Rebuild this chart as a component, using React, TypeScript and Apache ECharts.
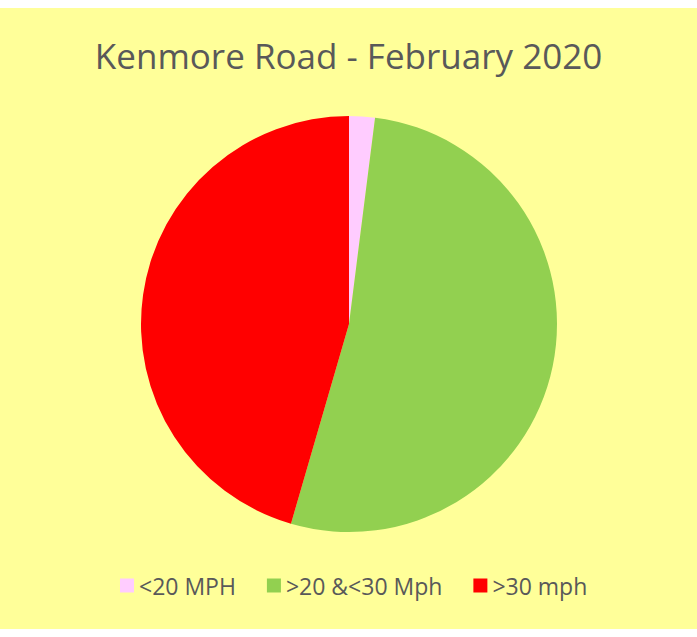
import React, { useEffect, useRef } from "react";
import * as echarts from "echarts";

const categories = ["<20 MPH", ">20 &<30 Mph", ">30 mph"];
const values = [2.0, 52.5, 45.5];
const colors = ["#FFCCFF", "#92D050", "#FF0000"];
const titleText = "Kenmore Road - February 2020";

export default function App() {
  const ref = useRef<HTMLDivElement>(null);
  useEffect(() => {
    if (!ref.current) return;
    const chart = echarts.init(ref.current, null, { renderer: "svg" });
    chart.setOption({
      animation: false,
      backgroundColor: "#FFFF99",
      title: {
        text: titleText,
        left: "center",
        top: 25,
        textStyle: {
          fontFamily: "Open Sans",
          fontSize: 35,
          fontWeight: "normal",
          color: "#595959",
        },
      },
      legend: {
        bottom: 27,
        left: 115,
        icon: "rect",
        itemWidth: 14,
        itemHeight: 14,
        itemGap: 31,
        data: categories,
        textStyle: {
          fontFamily: "Open Sans",
          fontSize: 23,
          color: "#595959",
        },
      },
      series: [
        {
          type: "pie",
          center: [349, 316],
          radius: 208,
          startAngle: 90,
          clockwise: true,
          label: { show: false },
          labelLine: { show: false },
          emphasis: { disabled: true },
          data: categories.map((c, i) => ({
            name: c,
            value: values[i],
            itemStyle: { color: colors[i] },
          })),
        },
      ],
    });
    return () => chart.dispose();
  }, []);
  return (
    <div
      ref={ref}
      style={{ position: "fixed", left: 0, top: 8, width: 697, height: 621 }}
    />
  );
}
